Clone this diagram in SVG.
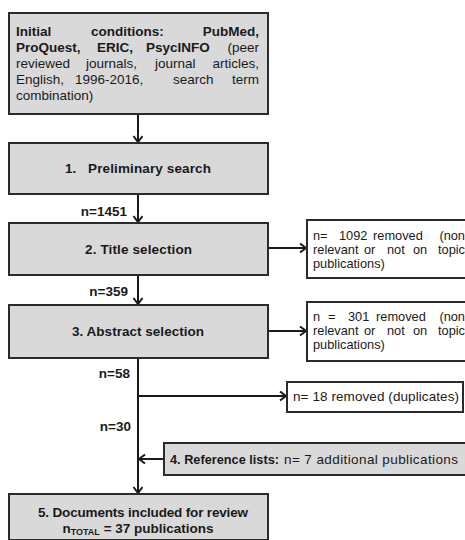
<svg xmlns="http://www.w3.org/2000/svg" width="465" height="540" viewBox="0 0 465 540">
  <style>
    .box { fill: #d9d9d9; stroke: #2b2b2b; stroke-width: 2; }
    .wbox { fill: #ffffff; stroke: #2b2b2b; stroke-width: 2; }
    .t { font-family: "Liberation Sans", Arial, sans-serif; font-size: 13.5px; fill: #1a1a1a; }
    .s { font-family: "Liberation Sans", Arial, sans-serif; font-size: 12.8px; fill: #1a1a1a; }
    .b { font-weight: bold; }
    .line { fill: none; stroke: #1a1a1a; stroke-width: 2; }
  </style>
  <defs>
    <marker id="arr" markerUnits="userSpaceOnUse" markerWidth="12" markerHeight="12" refX="9" refY="5" orient="auto">
      <path d="M3,0.5 L9,5 L3,9.5" fill="none" stroke="#1a1a1a" stroke-width="2"/>
    </marker>
  </defs>

  <!-- connectors and flow counts -->
  <g id="connectors">
    <line class="line" x1="138" y1="114" x2="138" y2="142" marker-end="url(#arr)"/>
    <line class="line" x1="138" y1="194" x2="138" y2="222" marker-end="url(#arr)"/>
    <line class="line" x1="138" y1="275" x2="138" y2="304" marker-end="url(#arr)"/>
    <line class="line" x1="138" y1="358" x2="138" y2="493" marker-end="url(#arr)"/>
    <line class="line" x1="268" y1="248" x2="306" y2="248" marker-end="url(#arr)"/>
    <line class="line" x1="268" y1="331" x2="306" y2="331" marker-end="url(#arr)"/>
    <line class="line" x1="138" y1="396" x2="286" y2="396" marker-end="url(#arr)"/>
    <line class="line" x1="164" y1="459" x2="139" y2="459" marker-end="url(#arr)"/>
    <text class="t b" x="127" y="216" text-anchor="end">n=1451</text>
    <text class="t b" x="128" y="296" text-anchor="end">n=359</text>
    <text class="t b" x="130" y="378" text-anchor="end">n=58</text>
    <text class="t b" x="131" y="431" text-anchor="end">n=30</text>
  </g>

  <!-- initial conditions (justified by word) -->
  <g id="initial">
    <rect class="box" x="9" y="13" width="259" height="101"/>
    <text class="t b" y="36"><tspan x="16">Initial</tspan><tspan x="91">conditions:</tspan><tspan x="259" text-anchor="end">PubMed,</tspan></text>
    <text class="t" y="52"><tspan class="b" x="16">ProQuest,</tspan><tspan class="b" x="97">ERIC,</tspan><tspan class="b" x="146">PsycINFO</tspan><tspan x="259" text-anchor="end">(peer</tspan></text>
    <text class="t" y="68"><tspan x="16">reviewed</tspan><tspan x="86">journals,</tspan><tspan x="155">journal</tspan><tspan x="259" text-anchor="end">articles,</tspan></text>
    <text class="t" y="84"><tspan x="16">English,</tspan><tspan x="75">1996-2016,</tspan><tspan x="173">search</tspan><tspan x="259" text-anchor="end">term</tspan></text>
    <text class="t" x="16" y="100">combination)</text>
  </g>

  <g id="preliminary">
    <rect class="box" x="9" y="143" width="259" height="51"/>
    <text class="t b" y="173"><tspan x="65">1.</tspan><tspan x="88" textLength="123" lengthAdjust="spacing">Preliminary search</tspan></text>
  </g>

  <g id="title">
    <rect class="box" x="9" y="223" width="259" height="52"/>
    <text class="t b" x="85" y="254" textLength="107" lengthAdjust="spacing">2. Title selection</text>
  </g>

  <g id="removed-title">
    <rect class="wbox" x="307" y="220" width="170" height="58"/>
    <text class="s" y="240"><tspan x="313">n=</tspan><tspan x="339">1092</tspan><tspan x="373">removed</tspan><tspan x="465" text-anchor="end">(non</tspan></text>
    <text class="s" y="254"><tspan x="313">relevant</tspan><tspan x="364">or</tspan><tspan x="387">not</tspan><tspan x="413">on</tspan><tspan x="465" text-anchor="end">topic</tspan></text>
    <text class="s" x="313" y="268">publications)</text>
  </g>

  <g id="abstract">
    <rect class="box" x="9" y="305" width="259" height="53"/>
    <text class="t b" x="72" y="336" textLength="132" lengthAdjust="spacing">3. Abstract selection</text>
  </g>

  <g id="removed-abstract">
    <rect class="wbox" x="307" y="302" width="170" height="59"/>
    <text class="s" y="321"><tspan x="313">n</tspan><tspan x="328">=</tspan><tspan x="348">301</tspan><tspan x="376">removed</tspan><tspan x="465" text-anchor="end">(non</tspan></text>
    <text class="s" y="335"><tspan x="313">relevant</tspan><tspan x="364">or</tspan><tspan x="387">not</tspan><tspan x="413">on</tspan><tspan x="465" text-anchor="end">topic</tspan></text>
    <text class="s" x="313" y="349">publications)</text>
  </g>

  <g id="duplicates">
    <rect class="wbox" x="287" y="382" width="176" height="30"/>
    <text class="t" x="293" y="401" textLength="166" lengthAdjust="spacing">n= 18 removed (duplicates)</text>
  </g>

  <g id="references">
    <rect class="box" x="164" y="443" width="306" height="32"/>
    <text class="t b" x="170" y="464" textLength="109" lengthAdjust="spacingAndGlyphs">4. Reference lists:</text>
    <text class="t" x="284" y="464" textLength="174" lengthAdjust="spacing">n= 7 additional publications</text>
  </g>

  <g id="included">
    <rect class="box" x="9" y="494" width="259" height="46"/>
    <text class="t b" x="38" y="517" textLength="210" lengthAdjust="spacing">5. Documents included for review</text>
    <text class="t b" x="138" y="533" text-anchor="middle">n<tspan font-size="9" dy="2">TOTAL</tspan><tspan dy="-2"> = 37 publications</tspan></text>
  </g>
</svg>
